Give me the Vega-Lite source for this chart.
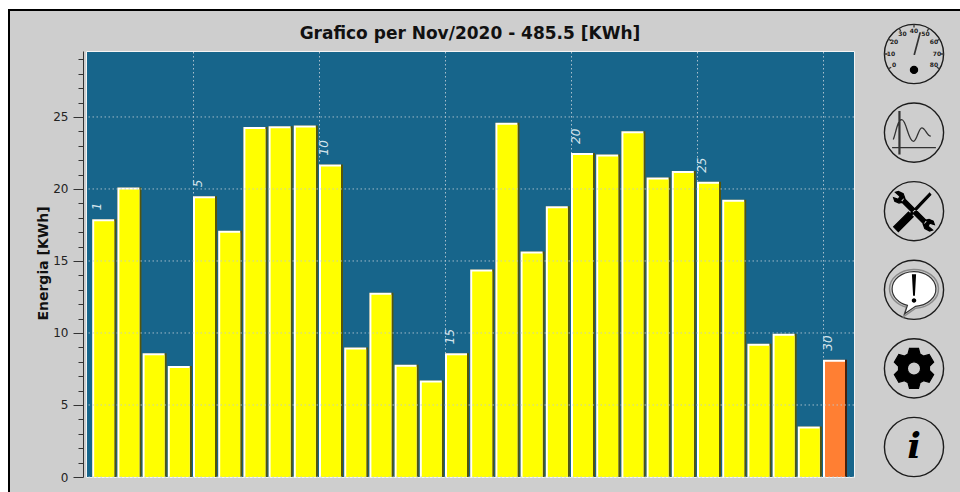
{"$schema":"https://vega.github.io/schema/vega-lite/v6.json","width":768,"height":426,"autosize":"none","padding":{"left":86,"top":51,"right":106,"bottom":15},"background":"#cecece","config":{"view":{"fill":"#17658b","stroke":"#f4f4f4","strokeWidth":1},"font":"DejaVu Sans"},"title":{"text":"Grafico per Nov/2020 - 485.5 [KWh]","font":"DejaVu Sans","fontSize":17,"fontWeight":"bold","color":"#111111","anchor":"middle","offset":-51},"datasets":{"days":[{"day":1,"kwh":17.9,"stato":"chiuso"},{"day":2,"kwh":20.1,"stato":"chiuso"},{"day":3,"kwh":8.6,"stato":"chiuso"},{"day":4,"kwh":7.7,"stato":"chiuso"},{"day":5,"kwh":19.5,"stato":"chiuso"},{"day":6,"kwh":17.1,"stato":"chiuso"},{"day":7,"kwh":24.3,"stato":"chiuso"},{"day":8,"kwh":24.35,"stato":"chiuso"},{"day":9,"kwh":24.4,"stato":"chiuso"},{"day":10,"kwh":21.7,"stato":"chiuso"},{"day":11,"kwh":9.0,"stato":"chiuso"},{"day":12,"kwh":12.8,"stato":"chiuso"},{"day":13,"kwh":7.8,"stato":"chiuso"},{"day":14,"kwh":6.7,"stato":"chiuso"},{"day":15,"kwh":8.6,"stato":"chiuso"},{"day":16,"kwh":14.4,"stato":"chiuso"},{"day":17,"kwh":24.6,"stato":"chiuso"},{"day":18,"kwh":15.65,"stato":"chiuso"},{"day":19,"kwh":18.8,"stato":"chiuso"},{"day":20,"kwh":22.5,"stato":"chiuso"},{"day":21,"kwh":22.4,"stato":"chiuso"},{"day":22,"kwh":24.0,"stato":"chiuso"},{"day":23,"kwh":20.8,"stato":"chiuso"},{"day":24,"kwh":21.25,"stato":"chiuso"},{"day":25,"kwh":20.5,"stato":"chiuso"},{"day":26,"kwh":19.25,"stato":"chiuso"},{"day":27,"kwh":9.25,"stato":"chiuso"},{"day":28,"kwh":9.95,"stato":"chiuso"},{"day":29,"kwh":3.5,"stato":"chiuso"},{"day":30,"kwh":8.15,"stato":"oggi"}],"icons":[{"icon":"gauge"},{"icon":"plot"},{"icon":"tools"},{"icon":"alert"},{"icon":"gear"},{"icon":"info"}],"dial":[{"n":0},{"n":10},{"n":20},{"n":30},{"n":40},{"n":50},{"n":60},{"n":70},{"n":80}]},"resolve":{"scale":{"x":"independent","y":"independent","theta":"independent","shape":"independent","color":"independent"}},"layer":[
{"data":{"values":[{}]},"mark":{"type":"rect","fill":null,"stroke":"#ffffff","strokeWidth":18,"x":-86,"x2":1000,"y":-50,"y2":600},"encoding":{}},
{"data":{"values":[{}]},"mark":{"type":"rect","fill":null,"stroke":"#000000","strokeWidth":2,"x":-77,"x2":1000,"y":-41,"y2":600},"encoding":{}},
{"data":{"name":"days"},"mark":{"type":"bar","orient":"vertical","size":24,"xOffset":12},"encoding":{"x":{"field":"day","type":"quantitative","scale":{"domain":[0.754,31.23],"nice":false,"zero":false,"padding":0},"axis":{"orient":"top","values":[5,10,15,20,25,30],"labels":false,"ticks":false,"domain":false,"title":null,"grid":true,"gridColor":"#b9c9d4","gridDash":[1.5,2.5],"gridOpacity":0.9}},"y":{"field":"kwh","type":"quantitative","stack":null,"scale":{"domain":[0,29.58],"nice":false},"axis":{"values":[0,1,2,3,4,5,6,7,8,9,10,11,12,13,14,15,16,17,18,19,20,21,22,23,24,25,26,27,28,29],"offset":3,"grid":false,"domainColor":"#333333","tickColor":"#333333","tickSize":{"expr":"datum.value % 5 === 0 ? 10 : 5"},"labelExpr":"datum.value % 5 === 0 ? datum.label : ''","labelFont":"DejaVu Sans","labelFontSize":12,"labelColor":"#222222","labelPadding":5,"title":"Energia [KWh]","titleFont":"DejaVu Sans","titleFontSize":14,"titleFontWeight":"bold","titleColor":"#111111","titleX":-33,"titleY":212}},"color":{"field":"stato","type":"nominal","scale":{"domain":["chiuso","oggi"],"range":["#55550a","#4a2008"]},"legend":null}}},
{"data":{"name":"days"},"mark":{"type":"bar","orient":"vertical","size":22,"xOffset":11,"color":"#ffffff"},"encoding":{"x":{"field":"day","type":"quantitative","scale":{"domain":[0.754,31.23],"nice":false,"zero":false,"padding":0},"axis":null},"y":{"field":"kwh","type":"quantitative","stack":null,"scale":{"domain":[0,29.58],"nice":false},"axis":null}}},
{"data":{"name":"days"},"mark":{"type":"bar","orient":"vertical","size":20,"xOffset":12,"yOffset":2,"y2Offset":-2},"encoding":{"x":{"field":"day","type":"quantitative","scale":{"domain":[0.754,31.23],"nice":false,"zero":false,"padding":0},"axis":null},"y":{"field":"kwh","type":"quantitative","stack":null,"scale":{"domain":[0,29.58],"nice":false},"axis":null},"color":{"field":"stato","type":"nominal","scale":{"domain":["chiuso","oggi"],"range":["#ffff00","#ff7f33"]},"legend":null}}},
{"data":{"values":[{"v":0},{"v":5},{"v":10},{"v":15},{"v":20},{"v":25}]},"mark":{"type":"rule","color":"#b9c9d4","strokeDash":[1.5,2.5],"opacity":0.85},"encoding":{"y":{"field":"v","type":"quantitative","scale":{"domain":[0,29.58],"nice":false},"axis":null}}},
{"data":{"name":"days"},"transform":[{"filter":"datum.day === 1 || datum.day % 5 === 0"}],"mark":{"type":"text","angle":270,"align":"left","baseline":"middle","dx":9,"dy":5,"fontSize":12,"fontStyle":"italic","color":"#d4e4ec"},"encoding":{"x":{"field":"day","type":"quantitative","scale":{"domain":[0.754,31.23],"nice":false,"zero":false,"padding":0},"axis":null},"y":{"field":"kwh","type":"quantitative","stack":null,"scale":{"domain":[0,29.58],"nice":false},"axis":null},"text":{"field":"day","type":"nominal"}}},
{"data":{"name":"icons"},"mark":{"type":"point","filled":false,"fill":null,"stroke":"#1c1c1c","strokeWidth":1.4,"shape":"circle","size":3500,"opacity":1},"encoding":{"x":{"value":828},"y":{"field":"icon","type":"nominal","sort":null,"scale":{"type":"point","padding":0,"domain":["gauge","plot","tools","alert","gear","info"],"range":[3,396]},"axis":null}}},
{"data":{"name":"icons"},"transform":[{"filter":"datum.icon === 'alert'"}],"mark":{"type":"point","filled":false,"fill":null,"stroke":"#8a8a8a","strokeWidth":1.5,"size":4500,"opacity":1,"shape":"M-0.73,-0.03A0.73,0.58 0 1 1 0.05,0.55L-0.31,0.8L-0.22,0.52A0.73,0.58 0 0 1 -0.73,-0.03Z"},"encoding":{"x":{"value":828},"y":{"field":"icon","type":"nominal","sort":null,"scale":{"type":"point","padding":0,"domain":["gauge","plot","tools","alert","gear","info"],"range":[3,396]},"axis":null}}},
{"data":{"name":"icons"},"transform":[{"filter":"datum.icon !== 'plot' && datum.icon !== 'info'"}],"mark":{"type":"point","filled":true,"size":3600,"opacity":1,"strokeWidth":1.2},"encoding":{"x":{"value":828},"y":{"field":"icon","type":"nominal","sort":null,"scale":{"type":"point","padding":0,"domain":["gauge","plot","tools","alert","gear","info"],"range":[3,396]},"axis":null},"shape":{"field":"icon","type":"nominal","legend":null,"scale":{"domain":["gauge","tools","alert","gear"],"range":["M-0.12,0.53A0.12,0.12 0 1 1 0.12,0.53A0.12,0.12 0 1 1 -0.12,0.53Z","M-0.678,0.522L-0.522,0.678L-0.028,0.184L-0.081,0.131L0.56,-0.55L0.52,-0.6L-0.131,0.081L-0.184,0.028ZM-0.35,-0.45L0.45,0.35L0.35,0.45L-0.45,-0.35ZM-0.3,-0.42L-0.36,-0.58L-0.52,-0.66L-0.62,-0.63L-0.47,-0.5L-0.52,-0.4L-0.68,-0.45L-0.64,-0.33L-0.5,-0.27L-0.38,-0.3ZM0.3,0.42L0.36,0.58L0.52,0.66L0.62,0.63L0.47,0.5L0.52,0.4L0.68,0.45L0.64,0.33L0.5,0.27L0.38,0.3Z","M-0.73,-0.03A0.73,0.58 0 1 1 0.05,0.55L-0.31,0.8L-0.22,0.52A0.73,0.58 0 0 1 -0.73,-0.03Z","M-0.2,-0.48L-0.15,-0.67L0.15,-0.67L0.2,-0.48L0.316,-0.413L0.505,-0.465L0.655,-0.205L0.516,-0.067L0.516,0.067L0.655,0.205L0.505,0.465L0.316,0.413L0.2,0.48L0.15,0.67L-0.15,0.67L-0.2,0.48L-0.316,0.413L-0.505,0.465L-0.655,0.205L-0.516,0.067L-0.516,-0.067L-0.655,-0.205L-0.505,-0.465L-0.316,-0.413ZM0,-0.22A0.22,0.22 0 1 0 0,0.22A0.22,0.22 0 1 0 0,-0.22Z"]}},"fill":{"field":"icon","type":"nominal","legend":null,"scale":{"domain":["gauge","tools","alert","gear"],"range":["#000000","#000000","#ffffff","#000000"]}},"stroke":{"field":"icon","type":"nominal","legend":null,"scale":{"domain":["gauge","tools","alert","gear"],"range":["#000000","#000000","#333333","#000000"]}}}},
{"data":{"name":"icons"},"transform":[{"filter":"datum.icon === 'alert'"}],"mark":{"type":"point","filled":true,"fill":"#000000","stroke":null,"size":3600,"opacity":1,"shape":"M-0.07,-0.52L0.07,-0.52L0.03,0.2L-0.03,0.2ZM0,0.28A0.075,0.075 0 1 1 0,0.43A0.075,0.075 0 1 1 0,0.28Z"},"encoding":{"x":{"value":828},"y":{"field":"icon","type":"nominal","sort":null,"scale":{"type":"point","padding":0,"domain":["gauge","plot","tools","alert","gear","info"],"range":[3,396]},"axis":null}}},
{"data":{"name":"icons"},"transform":[{"filter":"datum.icon === 'gauge' || datum.icon === 'plot'"}],"mark":{"type":"point","filled":false,"fill":null,"size":3600,"opacity":1,"stroke":"#333333","strokeWidth":1.3},"encoding":{"x":{"value":828},"y":{"field":"icon","type":"nominal","sort":null,"scale":{"type":"point","padding":0,"domain":["gauge","plot","tools","alert","gear","info"],"range":[3,396]},"axis":null},"shape":{"field":"icon","type":"nominal","legend":null,"scale":{"domain":["gauge","plot"],"range":["M0,0.03L0.2,-0.72M0.015,0.03L0.215,-0.72M0,-1L0,-0.88M0.5,-0.866L0.44,-0.76M0.866,-0.5L0.76,-0.44M1,0L0.88,0M0.866,0.5L0.76,0.44M-0.5,-0.866L-0.44,-0.76M-0.866,-0.5L-0.76,-0.44M-1,0L-0.88,0M-0.866,0.5L-0.76,0.44","M-0.5,-0.72L-0.5,0.73M-0.47,-0.72L-0.47,0.73M-0.73,0.5L0.73,0.5M-0.69,0.23C-0.6,0,-0.55,-0.43,-0.41,-0.43C-0.25,-0.43,-0.2,0.29,-0.02,0.29C0.1,0.29,0.15,-0.16,0.26,-0.16C0.38,-0.16,0.43,0.12,0.56,0.12"]}}}},
{"data":{"name":"dial"},"mark":{"type":"text","fontSize":6,"color":"#222222","align":"center","baseline":"middle","fontWeight":"bold"},"encoding":{"x":{"value":828},"y":{"value":3},"theta":{"field":"n","type":"quantitative","stack":null,"scale":{"domain":[0,80],"range":[-2.094,2.094]}},"radius":{"value":23},"text":{"field":"n","type":"nominal"}}},
{"data":{"name":"icons"},"transform":[{"filter":"datum.icon === 'info'"}],"mark":{"type":"text","text":"i","font":"DejaVu Serif","fontSize":36,"fontWeight":"bold","fontStyle":"italic","color":"#000000","align":"center","baseline":"middle"},"encoding":{"x":{"value":828},"y":{"field":"icon","type":"nominal","sort":null,"scale":{"type":"point","padding":0,"domain":["gauge","plot","tools","alert","gear","info"],"range":[3,396]},"axis":null}}}
]}
